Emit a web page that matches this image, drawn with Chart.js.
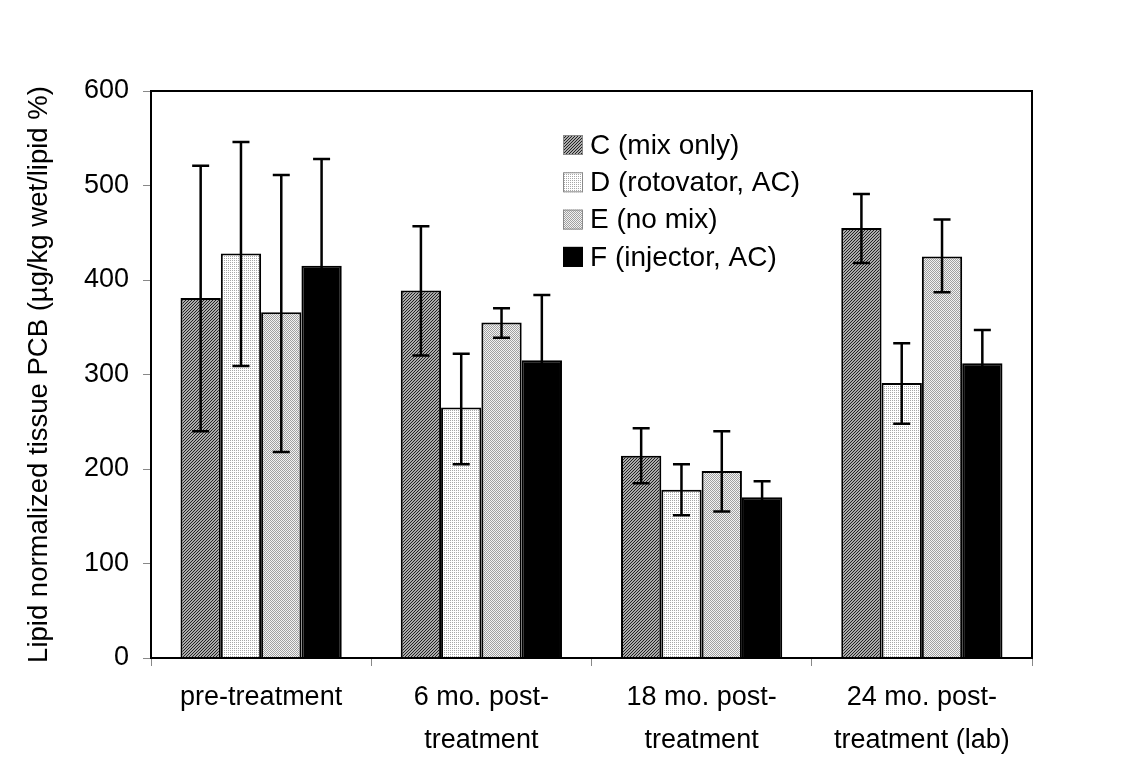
<!DOCTYPE html>
<html>
<head>
<meta charset="utf-8">
<script src="https://cdn.jsdelivr.net/npm/chart.js@4/dist/chart.umd.min.js"></script>
<style>
  html, body { margin: 0; padding: 0; background: #fff; }
  #wrap { width: 1127px; height: 767px; }
</style>
</head>
<body>
<div id="wrap"><canvas id="pcb-chart"></canvas></div>
<script>
const CATEGORIES = [
  ['pre-treatment'],
  ['6 mo. post-', 'treatment'],
  ['18 mo. post-', 'treatment'],
  ['24 mo. post-', 'treatment (lab)'],
];

const SERIES_LABELS = ['C (mix only)', 'D (rotovator, AC)', 'E (no mix)', 'F (injector, AC)'];

// mean values per treatment
const C_MEAN = [381, 389, 214, 455];
const D_MEAN = [428, 265, 178, 291];
const E_MEAN = [366, 355, 198, 425];
const F_MEAN = [415, 315, 170, 312];

// error bar ends
const C_HIGH = [521, 457, 243, 491];
const C_LOW = [240, 320, 185, 418];
const D_HIGH = [546, 322, 205, 333];
const D_LOW = [309, 205, 151, 248];
const E_HIGH = [511, 370, 240, 464];
const E_LOW = [218, 339, 155, 387];
const F_HIGH = [528, 384, 187, 347];
const F_LOW = [302, 246, 153, 277];

const Y_TICKS = [0, 100, 200, 300, 400, 500, 600];

const FONT = "'Liberation Sans', Arial, sans-serif";

// small tiles used as bar fills
function makePattern(w, h, draw) {
  const c = document.createElement('canvas');
  c.width = w;
  c.height = h;
  draw(c.getContext('2d'));
  return c.getContext('2d').createPattern(c, 'repeat');
}

const hatchDark = makePattern(3, 3, (g) => {
  g.fillStyle = '#ababab';
  g.fillRect(0, 0, 3, 3);
  g.fillStyle = '#222222';
  for (let i = 0; i < 3; i++) g.fillRect(i, 2 - i, 1, 1);
});

const dotsLight = makePattern(2, 2, (g) => {
  g.fillStyle = '#ffffff';
  g.fillRect(0, 0, 2, 2);
  g.fillStyle = '#a8a8a8';
  g.fillRect(0, 0, 1, 1);
});

const dotsMedium = makePattern(2, 2, (g) => {
  g.fillStyle = '#f2f2f2';
  g.fillRect(0, 0, 2, 2);
  g.fillStyle = '#a0a0a0';
  g.fillRect(0, 0, 1, 1);
  g.fillRect(1, 1, 1, 1);
});

const FILLS = [hatchDark, dotsLight, dotsMedium, '#000000'];
const MEANS = [C_MEAN, D_MEAN, E_MEAN, F_MEAN];
const HIGHS = [C_HIGH, D_HIGH, E_HIGH, F_HIGH];
const LOWS = [C_LOW, D_LOW, E_LOW, F_LOW];

const errorBars = {
  id: 'errorBars',
  afterDatasetsDraw(chart) {
    const { ctx, scales: { y } } = chart;
    ctx.save();
    ctx.strokeStyle = '#000';
    ctx.lineWidth = 2.5;
    chart.data.datasets.forEach((ds, i) => {
      chart.getDatasetMeta(i).data.forEach((bar, j) => {
        const top = y.getPixelForValue(HIGHS[i][j]);
        const bottom = y.getPixelForValue(LOWS[i][j]);
        ctx.beginPath();
        ctx.moveTo(bar.x, top);
        ctx.lineTo(bar.x, bottom);
        ctx.moveTo(bar.x - 8.5, top);
        ctx.lineTo(bar.x + 8.5, top);
        ctx.moveTo(bar.x - 8.5, bottom);
        ctx.lineTo(bar.x + 8.5, bottom);
        ctx.stroke();
      });
    });
    ctx.restore();
  },
};

// box around the plot plus the key inside it
const frameAndKey = {
  id: 'frameAndKey',
  afterDraw(chart) {
    const { ctx, chartArea: a } = chart;
    ctx.save();
    ctx.strokeStyle = '#000';
    ctx.lineWidth = 2;
    ctx.strokeRect(a.left, a.top, a.right - a.left, a.bottom - a.top);

    ctx.font = `28px ${FONT}`;
    ctx.textBaseline = 'middle';
    SERIES_LABELS.forEach((label, i) => {
      const cy = 145 + i * 37.3;
      ctx.fillStyle = FILLS[i];
      ctx.fillRect(563, cy - 10, 20, 20);
      ctx.lineWidth = 1;
      ctx.strokeStyle = i === 3 ? '#000' : '#8a8a8a';
      ctx.strokeRect(563.5, cy - 9.5, 19, 19);
      ctx.fillStyle = '#000';
      ctx.fillText(label, 590, cy + 1);
    });
    ctx.restore();
  },
};

new Chart(document.getElementById('pcb-chart'), {
  type: 'bar',
  data: {
    labels: CATEGORIES,
    datasets: SERIES_LABELS.map((label, i) => ({
      label,
      data: MEANS[i],
      backgroundColor: FILLS[i],
      borderColor: '#000',
      borderWidth: 2,
      barPercentage: 1,
      categoryPercentage: 0.732,
    })),
  },
  options: {
    responsive: true,
    maintainAspectRatio: false,
    animation: false,
    layout: { padding: { top: 91, right: 95, bottom: 0, left: 0 } },
    plugins: {
      legend: { display: false },
      tooltip: { enabled: false },
    },
    scales: {
      x: {
        afterFit: (scale) => { scale.height = 109; },
        border: { color: '#000', width: 2 },
        grid: { drawOnChartArea: false, drawTicks: true, tickLength: 8, color: '#888' },
        ticks: {
          color: '#000',
          padding: 10,
          maxRotation: 0,
          font: { family: FONT, size: 27, lineHeight: 1.6 },
        },
      },
      y: {
        min: 0,
        max: 600,
        afterFit: (scale) => { scale.width = 151; },
        afterBuildTicks: (scale) => { scale.ticks = Y_TICKS.map((v) => ({ value: v })); },
        border: { color: '#000', width: 2 },
        grid: { drawOnChartArea: false, drawTicks: true, tickLength: 8, color: '#888' },
        ticks: {
          color: '#000',
          padding: 14,
          font: { family: FONT, size: 27 },
        },
        title: {
          display: true,
          text: 'Lipid normalized tissue PCB (\u00b5g/kg wet/lipid %)',
          color: '#000',
          padding: { top: 23 },
          font: { family: FONT, size: 27.5 },
        },
      },
    },
  },
  plugins: [errorBars, frameAndKey],
});
</script>
</body>
</html>
